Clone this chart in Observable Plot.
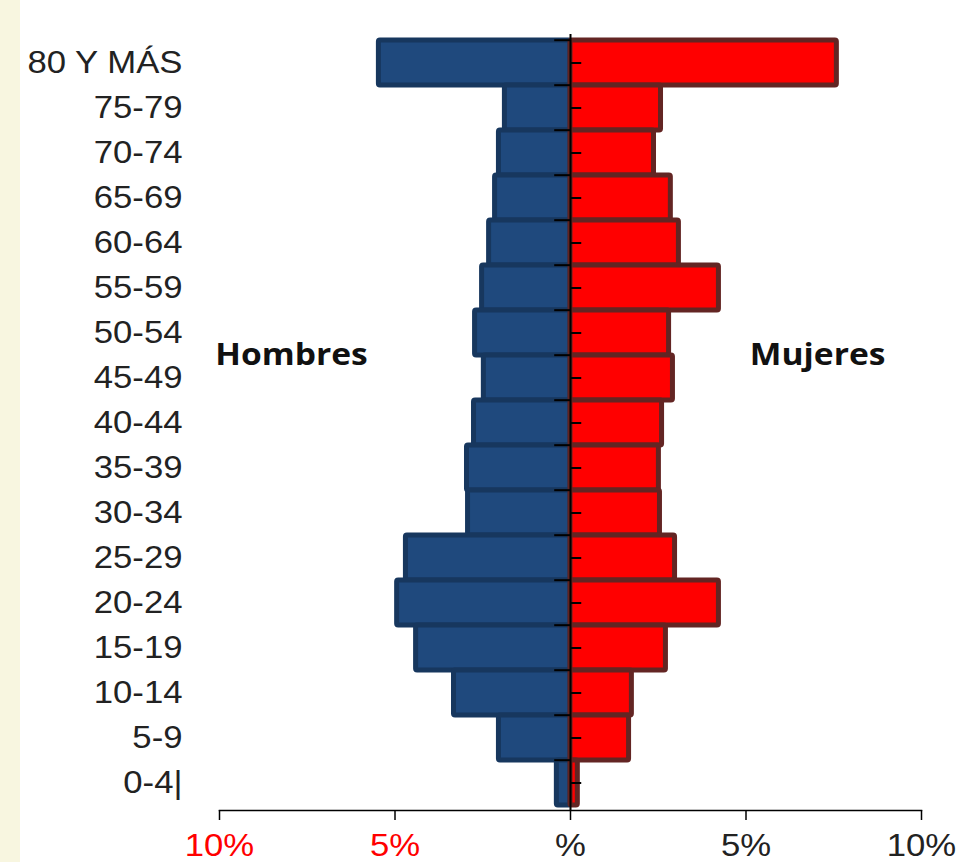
<!DOCTYPE html>
<html>
<head>
<meta charset="utf-8">
<script src="https://cdn.jsdelivr.net/npm/d3@7"></script>
<script src="https://cdn.jsdelivr.net/npm/@observablehq/plot@0.6"></script>
<style>
  html, body { margin: 0; padding: 0; }
  body { background: linear-gradient(to right, #f8f6e0 0px, #f8f6e0 20px, #ffffff 20px); width: 961px; height: 862px; overflow: hidden; }
</style>
</head>
<body>
<div id="chart"></div>
<script>
const ages = ["80 Y MÁS","75-79","70-74","65-69","60-64","55-59","50-54","45-49","40-44","35-39","30-34","25-29","20-24","15-19","10-14","5-9","0-4|"];
const hombres = [5.53, 1.94, 2.11, 2.22, 2.39, 2.59, 2.79, 2.54, 2.82, 3.02, 2.99, 4.76, 5.01, 4.47, 3.39, 2.11, 0.46];
const mujeres = [7.66, 2.65, 2.45, 2.93, 3.16, 4.30, 2.88, 2.99, 2.68, 2.59, 2.62, 3.05, 4.30, 2.79, 1.82, 1.74, 0.28];
const ticksLeft = [-10, -5];
const ticksRight = [0, 5, 10];
const sexLabels = [{label: "Hombres", x: -7.95}, {label: "Mujeres", x: 7.04}];

const rows = ages.map((a, i) => ({age: a, h: hombres[i], m: mujeres[i]}));
const fmt = d => d === 0 ? "%" : Math.abs(d) + "%";

const marginTop = 34, marginBottom = 52, height = 862;
const half = (height - marginTop - marginBottom) / ages.length / 2;

const plot = Plot.plot({
  width: 961,
  height,
  marginTop,
  marginBottom,
  marginLeft: 219,
  marginRight: 40,
  style: {fontFamily: "'Liberation Sans', Arial, sans-serif", fontSize: "31px", background: "transparent", color: "#222"},
  x: {domain: [-10, 10], axis: null},
  y: {domain: ages, padding: 0, label: null, axis: null},
  marks: [
    Plot.barX(rows, {y: "age", x1: d => -d.h, x2: 0, fill: "#1f497d", stroke: "#17375e", strokeWidth: 5, insetLeft: 2.5, insetTop: 0, insetBottom: 0, rx: 1.5}),
    Plot.barX(rows, {y: "age", x1: 0, x2: d => d.m, fill: "#ff0000", stroke: "#632523", strokeWidth: 5, insetRight: 2.5, insetTop: 0, insetBottom: 0, rx: 1.5}),
    Plot.ruleX([0], {stroke: "black", strokeWidth: 2}),
    Plot.ruleY(ages, {y: d => d, x1: -0.45, x2: 0, dy: -half, stroke: "black", strokeWidth: 2}),
    Plot.ruleY(ages, {y: d => d, x1: 0, x2: 0.32, stroke: "black", strokeWidth: 2}),
    Plot.frame({anchor: "bottom", stroke: "black", strokeWidth: 1.5}),
    Plot.axisY({tickSize: 0, tickPadding: 37, label: null, fill: "#222"}),
    Plot.axisX(ticksLeft, {tickFormat: fmt, tickSize: 10, tickPadding: 13, label: null, fill: "#ff0000", stroke: "black", strokeWidth: 1.5}),
    Plot.axisX(ticksRight, {tickFormat: fmt, tickSize: 10, tickPadding: 13, label: null, fill: "#222", stroke: "black", strokeWidth: 1.5}),
    Plot.text(sexLabels, {x: "x", y: () => "45-49", dy: -half, text: "label", fontFamily: "'Open Sans', sans-serif", fontWeight: "bold", fontSize: 30, fill: "#111"})
  ]
});

document.getElementById("chart").appendChild(plot);

// horizontal stretch of text (about its anchor point) to match the reference's proportions
d3.select(plot).selectAll("text").each(function() {
  const t = d3.select(this);
  const prev = t.attr("transform") || "";
  const ox = parseFloat(t.attr("x")) || 0;
  t.attr("transform", `${prev} translate(${ox},0) scale(1.12,1) translate(${-ox},0)`);
});
</script>
</body>
</html>
